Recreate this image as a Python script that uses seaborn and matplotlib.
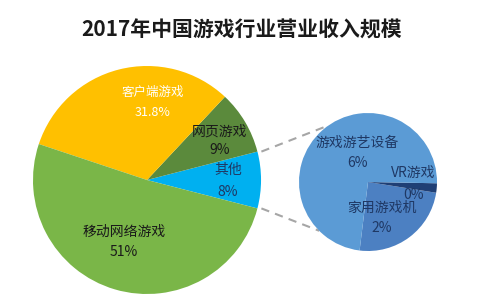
import numpy as np
import matplotlib
matplotlib.use("Agg")
import matplotlib.pyplot as plt
import seaborn as sns

# ---------------- data ----------------
title = "2017年中国游戏行业营业收入规模"
main_labels = ["其他", "网页游戏", "客户端游戏", "移动网络游戏"]
main_values = [8, 9, 31.8, 51]
main_pct = ["8%", "9%", "31.8%", "51%"]

sub_labels = ["家用游戏机", "VR游戏", "游戏游艺设备"]
sub_values = [2, 0.18, 6]
sub_pct = ["2%", "0%", "6%"]

# ---------------- styles / layout ----------------
main_colors = ["#00B0F0", "#5B8A3C", "#FFC000", "#7AB648"]
sub_colors = ["#4C80C2", "#1F3F75", "#5B9BD5"]
main_text_colors = ["#1F3864", "#1a1a1a", "#FFFFFF", "#1a1a1a"]
sub_text_colors = ["#1F3864", "#1F3864", "#1F3864"]

W, H = 483, 308
main_center = (147, H - 180)
main_r = 114
sub_center = (368, H - 182)
sub_r = 69

# label positions (image pixel coords: x, y of name line, y of percentage line)
main_label_pos = [(228, 170, 192), (220, 132, 150), (153, 92, 113), (124, 232, 252)]
main_label_size = [10, 10, 9, 10]
sub_label_pos = [(382, 208, 228), (413, 173, 195), (357, 143, 163)]

sns.set_theme(style="white")
plt.rcParams["font.family"] = ["Noto Sans CJK SC", "DejaVu Sans"]

fig = plt.figure(figsize=(W / 100, H / 100), dpi=100)
ax = fig.add_axes([0, 0, 1, 1])

total = sum(main_values)
other_angle = main_values[0] / total * 360
explode_frac = 0.035
ax.pie(main_values, colors=main_colors, startangle=-other_angle / 2,
       counterclock=True, center=main_center, radius=main_r,
       explode=[explode_frac, 0, 0, 0], wedgeprops=dict(linewidth=0),
       frame=True)

ax.pie(sub_values, colors=sub_colors, startangle=-97, counterclock=True,
       center=sub_center, radius=sub_r, wedgeprops=dict(linewidth=0),
       frame=True)

ax.set_xlim(0, W)
ax.set_ylim(0, H)
ax.set_aspect("equal")
ax.axis("off")

# connector lines
off = explode_frac * main_r
half = np.deg2rad(other_angle / 2)
p_top = (main_center[0] + off + main_r * np.cos(half), main_center[1] + main_r * np.sin(half))
p_bot = (main_center[0] + off + main_r * np.cos(-half), main_center[1] + main_r * np.sin(-half))
a_top, a_bot = np.deg2rad(125), np.deg2rad(225)
q_top = (sub_center[0] + sub_r * np.cos(a_top), sub_center[1] + sub_r * np.sin(a_top))
q_bot = (sub_center[0] + sub_r * np.cos(a_bot), sub_center[1] + sub_r * np.sin(a_bot))
for p, q in [(p_top, q_top), (p_bot, q_bot)]:
    ax.plot([p[0], q[0]], [p[1], q[1]], color="#A6A6A6", lw=1.5,
            linestyle=(0, (4, 3)), zorder=0)

for lab, pct, pos, col, fs in zip(main_labels, main_pct, main_label_pos,
                                  main_text_colors, main_label_size):
    ax.text(pos[0], H - pos[1], lab, ha="center", va="center", fontsize=fs, color=col)
    ax.text(pos[0], H - pos[2], pct, ha="center", va="center", fontsize=fs, color=col)

for lab, pct, pos, col in zip(sub_labels, sub_pct, sub_label_pos, sub_text_colors):
    ax.text(pos[0], H - pos[1], lab, ha="center", va="center", fontsize=10, color=col)
    ax.text(pos[0], H - pos[2], pct, ha="center", va="center", fontsize=10, color=col)

ax.text(242, H - 30, title, ha="center", va="center", fontsize=15,
        fontweight="bold", color="#1a1a1a")

fig.savefig("out.png", dpi=100)
